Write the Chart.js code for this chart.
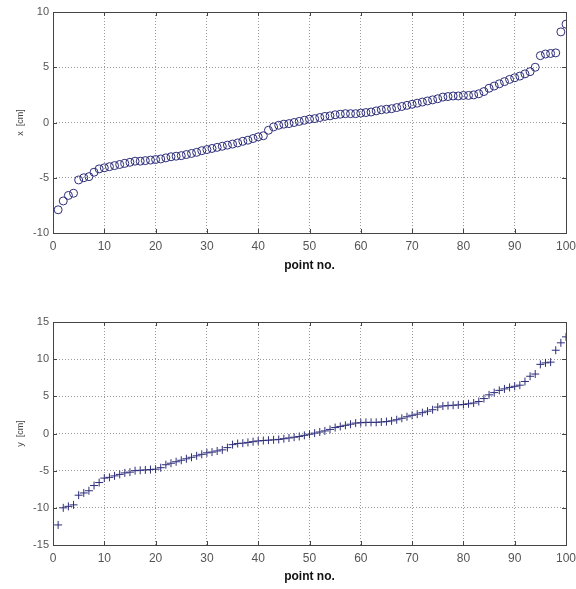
<!DOCTYPE html>
<html>
<head>
<meta charset="utf-8">
<script src="https://cdn.jsdelivr.net/npm/chart.js@4"></script>
<style>
	html, body { margin: 0; padding: 0; background: #fff; }
	#wrap { position: relative; width: 576px; height: 589px; }
	.box { position: absolute; left: 0; width: 576px; }
</style>
</head>
<body>
<div id="wrap">
	<div class="box" style="top:0;height:280px"><canvas id="chart_x" width="576" height="280"></canvas></div>
	<div class="box" style="top:280px;height:309px"><canvas id="chart_y" width="576" height="309"></canvas></div>
</div>
<script>
// point numbers on the horizontal axis
const pointNo = Array.from({ length: 100 }, (_, i) => i + 1)

// sorted x coordinates [cm]
const xValues = [
	-7.9, -7.1, -6.6, -6.4, -5.2, -5.0, -4.9, -4.5, -4.2, -4.1,
	-4.0, -3.9, -3.8, -3.7, -3.6, -3.5, -3.5, -3.45, -3.4, -3.35,
	-3.3, -3.2, -3.1, -3.05, -3.0, -2.9, -2.8, -2.7, -2.55, -2.45,
	-2.35, -2.25, -2.15, -2.05, -1.95, -1.85, -1.7, -1.6, -1.45, -1.3,
	-1.2, -0.7, -0.4, -0.25, -0.15, -0.1, 0.0, 0.1, 0.2, 0.3,
	0.35, 0.45, 0.55, 0.6, 0.7, 0.75, 0.8, 0.8, 0.8, 0.85,
	0.9, 0.95, 1.05, 1.15, 1.2, 1.25, 1.35, 1.45, 1.55, 1.65,
	1.75, 1.85, 1.95, 2.05, 2.15, 2.3, 2.35, 2.4, 2.4, 2.45,
	2.45, 2.5, 2.6, 2.8, 3.1, 3.3, 3.5, 3.7, 3.9, 4.05,
	4.2, 4.4, 4.6, 5.0, 6.05, 6.2, 6.25, 6.3, 8.2, 8.9,
]

// sorted y coordinates [cm]
const yValues = [
	-12.3, -10.0, -9.8, -9.6, -8.3, -8.0, -7.7, -7.0, -6.6, -6.0,
	-5.9, -5.7, -5.5, -5.3, -5.2, -5.0, -4.95, -4.9, -4.85, -4.8,
	-4.6, -4.2, -4.0, -3.8, -3.6, -3.4, -3.2, -3.0, -2.8, -2.6,
	-2.5, -2.35, -2.2, -1.9, -1.5, -1.35, -1.3, -1.2, -1.1, -1.0,
	-0.95, -0.9, -0.85, -0.8, -0.7, -0.6, -0.5, -0.4, -0.25, -0.1,
	0.05, 0.2, 0.35, 0.55, 0.8, 0.95, 1.1, 1.25, 1.4, 1.45,
	1.5, 1.5, 1.5, 1.55, 1.6, 1.7, 1.85, 2.05, 2.25, 2.45,
	2.6, 2.8, 3.0, 3.2, 3.55, 3.7, 3.75, 3.8, 3.85, 3.9,
	4.0, 4.1, 4.3, 4.7, 5.2, 5.5, 5.8, 6.0, 6.2, 6.35,
	6.5, 7.0, 7.7, 8.0, 9.3, 9.5, 9.6, 11.2, 12.2, 13.0,
]

const markColor = '#2e2e7a'

// frame round the plot area with small inward ticks, matlab style
const framePlugin = {
	id: 'frame',
	afterDraw(chart) {
		const { ctx, chartArea: a, scales } = chart
		ctx.save()
		ctx.strokeStyle = '#444'
		ctx.lineWidth = 1
		ctx.strokeRect(a.left + 0.5, a.top + 0.5, a.right - a.left, a.bottom - a.top)
		ctx.beginPath()
		scales.x.ticks.forEach(t => {
			const px = Math.round(scales.x.getPixelForValue(t.value)) + 0.5
			ctx.moveTo(px, a.bottom); ctx.lineTo(px, a.bottom - 4)
			ctx.moveTo(px, a.top); ctx.lineTo(px, a.top + 4)
		})
		scales.y.ticks.forEach(t => {
			const py = Math.round(scales.y.getPixelForValue(t.value)) + 0.5
			ctx.moveTo(a.left, py); ctx.lineTo(a.left + 4, py)
			ctx.moveTo(a.right, py); ctx.lineTo(a.right - 4, py)
		})
		ctx.stroke()
		ctx.restore()
	},
}

function drawPanel(id, values, opts) {
	new Chart(document.getElementById(id), {
		type: 'scatter',
		data: {
			datasets: [{
				data: pointNo.map((n, i) => ({ x: n, y: values[i] })),
				pointStyle: opts.marker,
				pointRadius: opts.radius,
				pointHoverRadius: opts.radius,
				borderColor: markColor,
				backgroundColor: 'rgba(0,0,0,0)',
				pointBorderWidth: 1,
			}],
		},
		options: {
			responsive: false,
			animation: false,
			events: [],
			layout: { padding: { top: opts.top, right: 10, left: 0, bottom: 0 } },
			plugins: { legend: { display: false }, tooltip: { enabled: false } },
			scales: {
				x: {
					type: 'linear',
					min: 0,
					max: 100,
					ticks: { stepSize: 10, color: '#555', padding: 6, font: { family: 'Liberation Sans', size: 12 } },
					grid: { color: '#9a9a9a', drawTicks: false },
					border: { display: false, dash: [1, 2] },
					title: { display: true, text: 'point no.', color: '#111', padding: { top: 0, bottom: opts.titlePad }, font: { family: 'Liberation Sans', size: 12, weight: 'bold' } },
					afterFit(scale) {
						scale.height = opts.xHeight
						// let the "100" label hang into the page margin
						scale.paddingRight = 0
						scale.paddingLeft = 0
					},
				},
				y: {
					min: opts.min,
					max: opts.max,
					ticks: { stepSize: 5, color: '#555', padding: 4, font: { family: 'Liberation Sans', size: 11 } },
					grid: { color: '#9a9a9a', drawTicks: false },
					border: { display: false, dash: [1, 2] },
					title: { display: true, text: opts.label, color: '#444', padding: { top: 15, bottom: 0 }, font: { family: 'Liberation Sans', size: 9 } },
					afterFit(scale) { scale.width = 53 },
				},
			},
		},
		plugins: [framePlugin],
	})
}

drawPanel('chart_x', xValues, { marker: 'circle', radius: 4, min: -10, max: 10, label: 'x  [cm]', top: 12, xHeight: 47, titlePad: 7 })
drawPanel('chart_y', yValues, { marker: 'cross', radius: 4, min: -15, max: 15, label: 'y  [cm]', top: 42, xHeight: 44, titlePad: 5 })
</script>
</body>
</html>
